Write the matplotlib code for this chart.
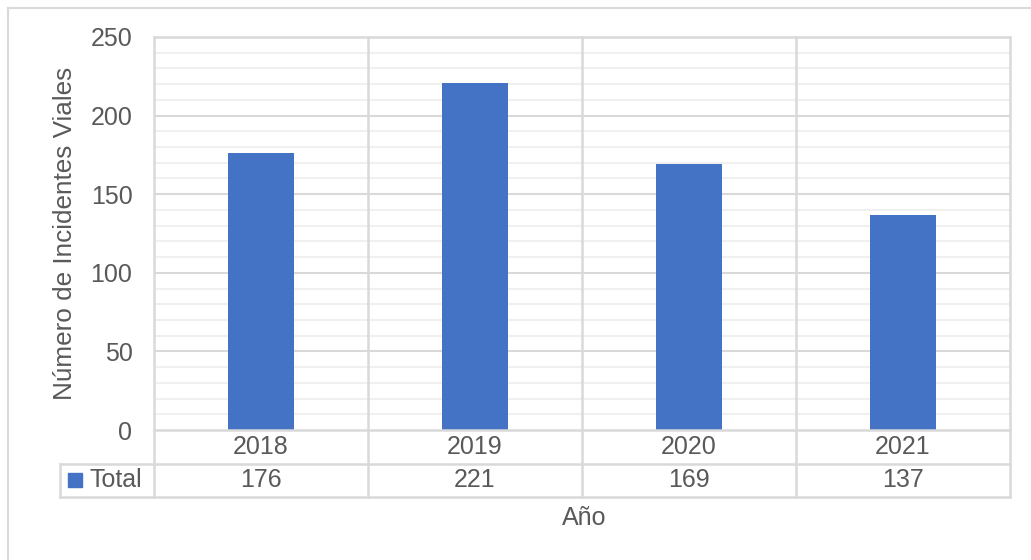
import matplotlib
matplotlib.use("Agg")
import matplotlib.pyplot as plt
from matplotlib.lines import Line2D
from matplotlib.patches import Rectangle
import matplotlib.transforms as mtransforms

plt.rcParams['font.family'] = ['Liberation Sans', 'DejaVu Sans']

years = ["2018", "2019", "2020", "2021"]
totals = [176, 221, 169, 137]
series_name = "Total"
ylabel = "Número de Incidentes Viales"
xlabel = "Año"

W, H = 1031, 560
fig = plt.figure(figsize=(W / 100, H / 100), dpi=100)

def fx(px):
    return px / W

def fy(py):
    return 1 - py / H

FS = 18
left, right, top, bottom = 154, 1010, 37, 430
ax = fig.add_axes([fx(left), fy(bottom), fx(right - left), (bottom - top) / H])

txt = "#595959"
grid_major = "#d9d9d9"
grid_minor = "#f0f0f0"
bar_color = "#4472C4"

x = list(range(len(years)))
ax.set_xlim(-0.5, len(years) - 0.5)
ax.set_ylim(0, 250)

for v in range(10, 250, 10):
    if v % 50:
        ax.axhline(v, color=grid_minor, lw=1.5, zorder=0)
for v in range(50, 251, 50):
    ax.axhline(v, color=grid_major, lw=1.5, zorder=0.5)

ax.bar(x, totals, width=0.31, color=bar_color, zorder=2)

ax.set_yticks(range(0, 251, 50))
ax.tick_params(axis='y', length=0, labelsize=FS, labelcolor=txt, pad=15.5)
ax.set_xticks([])
for s in ax.spines.values():
    s.set_visible(False)

fig.text(fx(65), fy(233), ylabel, rotation=90, ha='center', va='center',
         fontsize=18.8, color=txt)

row_h = 33.5 / (bottom - top)
trans = mtransforms.blended_transform_factory(ax.transData, ax.transAxes)
line_kw = dict(color=grid_major, lw=1.8, transform=trans, clip_on=False, zorder=3)

leg_left = (60 - left) / 214 - 0.5

for b in [-0.5, 0.5, 1.5, 2.5, 3.5]:
    ax.add_line(Line2D([b, b], [1, -2 * row_h], **line_kw))
ax.add_line(Line2D([leg_left, leg_left], [-row_h, -2 * row_h], **line_kw))
ax.add_line(Line2D([-0.5, 3.5], [1, 1], **line_kw))
ax.add_line(Line2D([-0.5, 3.5], [0, 0], **line_kw))
ax.add_line(Line2D([leg_left, 3.5], [-row_h, -row_h], **line_kw))
ax.add_line(Line2D([leg_left, 3.5], [-2 * row_h, -2 * row_h], **line_kw))

for i, (yr, v) in enumerate(zip(years, totals)):
    ax.text(i, -0.5 * row_h, yr, transform=trans, ha='center', va='center',
            fontsize=FS, color=txt)
    ax.text(i, -1.5 * row_h, str(v), transform=trans, ha='center', va='center',
            fontsize=FS, color=txt)

fig.patches.append(Rectangle((fx(68), fy(487)), fx(14), 14 / H, color=bar_color,
                             transform=fig.transFigure))
fig.text(fx(89), fy(480), series_name, ha='left', va='center', fontsize=FS, color=txt)

fig.text(fx(584), fy(518), xlabel, ha='center', va='center', fontsize=FS, color=txt)

fig.add_artist(Line2D([fx(8), 1], [fy(8), fy(8)], color=grid_major, lw=1.5,
                      transform=fig.transFigure))
fig.add_artist(Line2D([fx(8), fx(8)], [fy(8), 0], color=grid_major, lw=1.5,
                      transform=fig.transFigure))

fig.savefig("out.png", dpi=100)
